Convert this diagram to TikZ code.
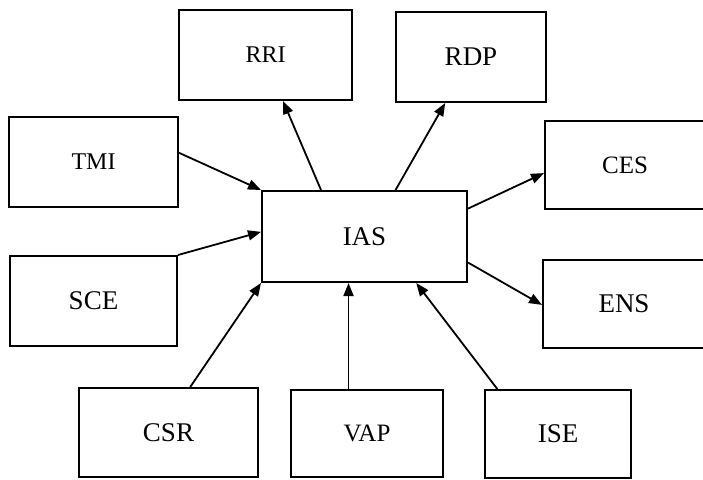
\documentclass[tikz,border=0pt]{standalone}
\usepackage{fontspec}
\setmainfont{Liberation Serif}
\usetikzlibrary{arrows.meta,calc}
\begin{document}
\begin{tikzpicture}[x=1pt,y=-1pt,
  box/.style={draw, line width=2pt, inner sep=0pt, font=\fontsize{27}{31}\selectfont},
  smalltext/.style={font=\fontsize{24}{28}\selectfont},
  arr/.style={line width=1.8pt, -{Triangle[length=13pt,width=10pt]}}]
\useasboundingbox (0,0) rectangle (703,479);
% boxes
\node[box, smalltext, minimum width=173pt, minimum height=90pt] (rri) at (265.5,55) {RRI};
\node[box, minimum width=150pt, minimum height=90pt] (rdp) at (471,57) {RDP};
\node[box, smalltext, minimum width=169pt, minimum height=90pt] (tmi) at (93.5,162) {TMI};
\node[box, font=\fontsize{25}{29}\selectfont, minimum width=160pt, minimum height=88pt] (ces) at (625,165) {CES};
\node[box, minimum width=205pt, minimum height=91pt] (ias) at (364.5,236.5) {IAS};
\node[box, minimum width=167pt, minimum height=90pt] (sce) at (93.5,301) {SCE};
\node[box, minimum width=162pt, minimum height=88pt] (ens) at (624,304) {ENS};
\node[box, minimum width=179pt, minimum height=89pt] (csr) at (168.5,432.5) {CSR};
\node[box, font=\fontsize{25}{29}\selectfont, minimum width=152pt, minimum height=87pt] (vap) at (367,433.5) {VAP};
\node[box, minimum width=146pt, minimum height=88pt] (ise) at (558,434) {ISE};
% connectors
\draw[arr] ($(tmi.north east)!0.4!(tmi.south east)$) -- (ias.north west);
\draw[arr] (sce.north east) -- ($(ias.north west)!0.45!(ias.south west)$);
\draw[arr] ($(ias.north west)!0.29!(ias.north east)$) -- ($(rri.south west)!0.6!(rri.south east)$);
\draw[arr] ($(ias.north west)!0.65!(ias.north east)$) -- ($(rdp.south west)!0.33!(rdp.south east)$);
\draw[arr] ($(ias.north east)!0.2!(ias.south east)$) -- ($(ces.north west)!0.59!(ces.south west)$);
\draw[arr] ($(ias.north east)!0.78!(ias.south east)$) -- ($(ens.north west)!0.51!(ens.south west)$);
\draw[arr] ($(csr.north west)!0.62!(csr.north east)$) -- (ias.south west);
\coordinate (v1) at ($(vap.north west)!0.38!(vap.north east)$);
\draw[arr] (v1) -- (v1 |- ias.south);
\draw[arr] ($(ise.north west)!0.09!(ise.north east)$) -- ($(ias.south west)!0.75!(ias.south east)$);
\end{tikzpicture}
\end{document}
